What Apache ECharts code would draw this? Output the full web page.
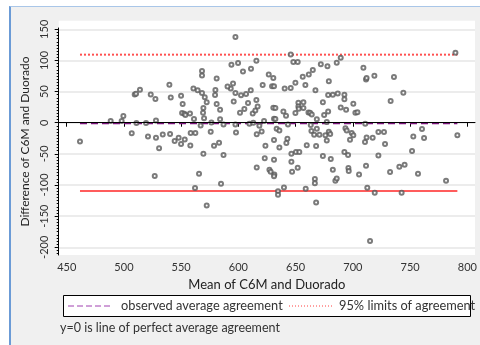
<!DOCTYPE html>
<html>
<head>
    <meta charset="utf-8">
    <title>Bland-Altman C6M vs Duorado</title>
    <script src="https://cdn.jsdelivr.net/npm/echarts@6.0.0/dist/echarts.min.js"></script>
    <style>
        body { margin: 0; background: #fff; }
        #frame { position: absolute; left: 9px; top: 6px; width: 480px; height: 345px;
                 background: #f0f0f0; border-left: 2px solid #6b9bd6; border-top: 1px solid #a9c6e8; }
        #main { position: absolute; left: 0; top: 0; width: 480px; height: 345px; }
    </style>
</head>
<body>
<div id="frame"></div>
<div id="main"></div>
<script type="text/javascript">
    // mean of the two methods (x) and their difference (y)
    var meanVals = [461.6, 488.4, 499.5, 498, 506.8, 509.4, 510.6, 514, 510.9, 521, 519.3, 523.4, 527.5, 526.9, 528, 528,
        530.7, 533.9, 539.7, 540.9, 540.3, 544.3, 547.8, 549.9, 549.9, 551.3, 550.8, 552.8, 553.7, 553.1, 557.7, 558.3,
        558, 560.7, 561.2, 562.4, 562.1, 564.4, 565.6, 567, 568.2, 568.2, 568.2, 569.4, 569.1, 570, 569.4, 570.6,
        572.3, 572.3, 575.8, 576.4, 578.7, 579.6, 579.9, 581, 581, 583.1, 584, 584, 584.8, 587, 587, 593.3,
        593.9, 595.3, 595.9, 597.4, 597.4, 597.9, 597.4, 599.7, 601.4, 602.3, 604, 605.2, 606.7, 608.4, 609.6, 610.8,
        611, 612.5, 613, 614.8, 615.7, 615.7, 616.8, 616, 616, 618.3, 620.3, 621.2, 622.4, 623.6, 623, 626.5,
        627.1, 628.2, 629.4, 630.5, 631.1, 630.5, 631.1, 632.3, 632.3, 631.1, 631.1, 631.4, 631.1, 633.4, 634.6, 634.6,
        635.8, 635.8, 639.3, 639.8, 640.4, 641.6, 643.3, 642.8, 641.9, 645.7, 645.7, 646.3, 646.3, 646.9, 648, 649.8,
        649.8, 650.3, 651.8, 652.4, 652.4, 651.8, 653.2, 652.7, 656.2, 656.8, 656.8, 658.5, 658.8, 659.7, 661.5, 661.2,
        662.6, 663.2, 663.8, 664.1, 665, 666.2, 666.8, 666.8, 667.3, 667.9, 667.9, 668.5, 668.5, 670.8, 672, 673.8,
        673.8, 674.9, 676, 677.2, 677.8, 678.4, 678.4, 677.2, 679, 679, 680.2, 680.7, 682.5, 682.5, 684.7, 685.9,
        685.9, 686.8, 689.4, 689.4, 692.6, 692.6, 692.6, 694.1, 693.5, 694.6, 695.8, 696.1, 696.4, 697.5, 699, 700.4,
        700.4, 702.2, 704, 705.4, 709.2, 710.6, 711.5, 712, 711.5, 712, 712.6, 715, 717.3, 719.1, 718.8, 722.3,
        722.3, 727.2, 728.1, 733, 732.5, 735.9, 740.6, 742.6, 744.1, 745.2, 751.7, 752.8, 756.9, 760.4, 762.2, 781.4,
        789.6, 791.3, 710.8, 590.5];
    var diffVals = [-30, 2.7, 10.7, 2.7, -17, 45.5, 46.6, 53, -0.5, -22, -0.5, 45.5, 38, -85.7, -24, 3.7,
        -41, -19, 61, 40.7, -18, -29.4, -24, 43.4, -34, 30, 15.5, 14.5, 12.3, -27, 15, -16.6,
        -36.4, 55, 5.9, -16.6, -105, 52, -82, -4.3, 47.6, 83, 76, 23.6, 16, 7, -49.8, 41,
        33, -132.8, -14.5, 0.5, -37, 44.4, 52.5, 71, 30, -32, 21, 5.4, -98, -2.7, -52, 55,
        93, 63, 34, 137.6, 47.6, -15.5, -2.7, 96, 16, 44, 82.4, 22, 46, 31.6, -1.6, 52,
        86.7, 15, 0, 19.8, 99.6, 36.4, 26.2, -18.7, -72, -4.8, -14, 60.5, 2.7, -37, -57, 77.6,
        -75.5, -78.7, 58.4, 71.7, 58.4, 24, 6.4, 5.9, 23.6, -27.8, -59.4, -83, -86, -9.6, -110, -115.6,
        -12.3, -39.6, 18.2, -104, 55, 11.2, -2.7, -25.7, -32.7, 109.7, 55.7, -49.8, -62.6, -78.7, 97.4, 64.2,
        15.5, -47, 97.4, 32, 26, -72.3, -47, 22.5, 74, 33, 23.6, 60.5, -106, -36, 77.6, 16.6,
        16, -3.7, -13.4, 13.4, 84.6, -19.3, -90.5, -97, 52, -37.5, -128, -9.6, 5.4, -19.3, 94, 32.7,
        -53.5, 12.3, -20.3, 1, 90.5, 44.4, 18.2, -28.4, 66.4, -14.5, -18.2, -58.4, 45, -75.5, -93, -89.4,
        96.4, 47, 24.6, 104.4, 45, 37.5, -47, 21, -9, -12.3, -52, -72.8, -77.6, -27.3, -16.6, -20.3,
        30.5, 16, 17, -83, 88.3, -31, 69.6, 71.7, -69, -23.6, -104.4, -190, -24, -112.4, 75.5, -15,
        -52.5, -15, -34.3, 34.8, -79, 73.3, -70.7, -112.4, 48, -67.5, -45.5, -22, -82, -10, -24.6, -93,
        112.4, -20, -1.5, 58];

    var xTicks = [450, 500, 550, 600, 650, 700, 750, 800];
    var yTicks = [-200, -150, -100, -50, 0, 50, 100, 150];
    var yMinorTicks = [];
    for (var t = -210; t <= 150; t += 5) yMinorTicks.push(t);

    var meanDiff = -0.8;        // observed average agreement
    var upperLimit = 109.3;     // 95% limits of agreement
    var lowerLimit = -109.8;
    var lineStart = 461.6, lineEnd = 791.3;

    var points = [];
    for (var i = 0; i < meanVals.length; i++) points.push([meanVals[i], diffVals[i]]);

    var font = 'Lato';
    var myChart = echarts.init(document.getElementById('main'));
    var option = {
        animation: false,
        textStyle: { fontFamily: font },
        grid: { left: 58.7, right: 5, top: 28, bottom: 90 },
        xAxis: {
            type: 'value', min: 443, max: 806.7,
            name: 'Mean of C6M and Duorado', nameLocation: 'middle', nameGap: 18,
            nameTextStyle: { fontSize: 13, color: '#222' },
            axisLine: { lineStyle: { color: '#000', width: 1 } },
            axisTick: { customValues: xTicks, length: 4, lineStyle: { color: '#000' } },
            axisLabel: { customValues: xTicks, fontSize: 11, color: '#333', margin: 7 },
            splitLine: { show: false }
        },
        yAxis: [{
            type: 'value', min: -212.4, max: 152.1, position: 'left',
            name: 'Difference of C6M and Duorado', nameLocation: 'middle', nameGap: 21,
            nameTextStyle: { fontSize: 12, color: '#222' },
            axisLine: { show: true, lineStyle: { color: '#000', width: 1 } },
            axisTick: { show: true, customValues: yTicks, length: 4, lineStyle: { color: '#000' } },
            axisLabel: { customValues: yTicks, rotate: 90, fontSize: 11, color: '#333', margin: 9 },
            splitLine: { show: true, lineStyle: { color: '#e6e6e6', width: 1.5 } }
        }, {
            type: 'value', min: -212.4, max: 152.1, position: 'left',
            axisLine: { show: false },
            axisTick: { show: true, customValues: yMinorTicks, length: 2, lineStyle: { color: '#000' } },
            axisLabel: { show: false },
            splitLine: { show: false }
        }],
        graphic: [
            { type: 'rect', z: -100, silent: true,
              shape: { x: 58.7, y: 20.7, width: 416.3, height: 234.3 }, style: { fill: '#fff' } },
            { type: 'rect', silent: true,
              shape: { x: 63.5, y: 295.5, width: 407, height: 21 },
              style: { fill: '#fff', stroke: '#000', lineWidth: 1 } },
            { type: 'line', silent: true, shape: { x1: 68, y1: 306, x2: 110, y2: 306 },
              style: { stroke: '#a040b0', lineWidth: 1, lineDash: [6, 3] } },
            { type: 'text', silent: true, x: 121, y: 306,
              style: { text: 'observed average agreement', font: '12.8px ' + font, fill: '#333', verticalAlign: 'middle' } },
            { type: 'line', silent: true, shape: { x1: 289, y1: 306, x2: 332, y2: 306 },
              style: { stroke: '#ff4040', lineWidth: 1, lineDash: [1, 2] } },
            { type: 'text', silent: true, x: 339, y: 306,
              style: { text: '95% limits of agreement', font: '12.8px ' + font, fill: '#333', verticalAlign: 'middle' } },
            { type: 'text', silent: true, x: 60, y: 328,
              style: { text: 'y=0 is line of perfect average agreement', font: '12.5px ' + font, fill: '#333', verticalAlign: 'middle' } }
        ],
        series: [
            {
                type: 'line', data: [[lineStart, lowerLimit], [lineEnd, lowerLimit]],
                symbol: 'none', z: 2, lineStyle: { color: '#ff5c5c', width: 2 },
                markLine: {
                    silent: true, symbol: 'none', label: { show: false },
                    lineStyle: { color: '#000', width: 1, type: 'solid' },
                    data: [{ yAxis: 0 }]
                }
            },
            {
                type: 'line', data: [[lineStart, upperLimit], [lineEnd, upperLimit]],
                symbol: 'none', z: 2, lineStyle: { color: '#ff5050', width: 2, type: [2, 2] }
            },
            {
                type: 'line', data: [[lineStart, meanDiff], [lineEnd, meanDiff]],
                symbol: 'none', z: 3, lineStyle: { color: '#7a137a', width: 2, type: [7, 4] }
            },
            {
                type: 'scatter', data: points, symbol: 'emptyCircle', symbolSize: 4, z: 4,
                itemStyle: { color: '#5a5a5a', borderWidth: 1 }
            }
        ]
    };
    myChart.setOption(option);
</script>
</body>
</html>
